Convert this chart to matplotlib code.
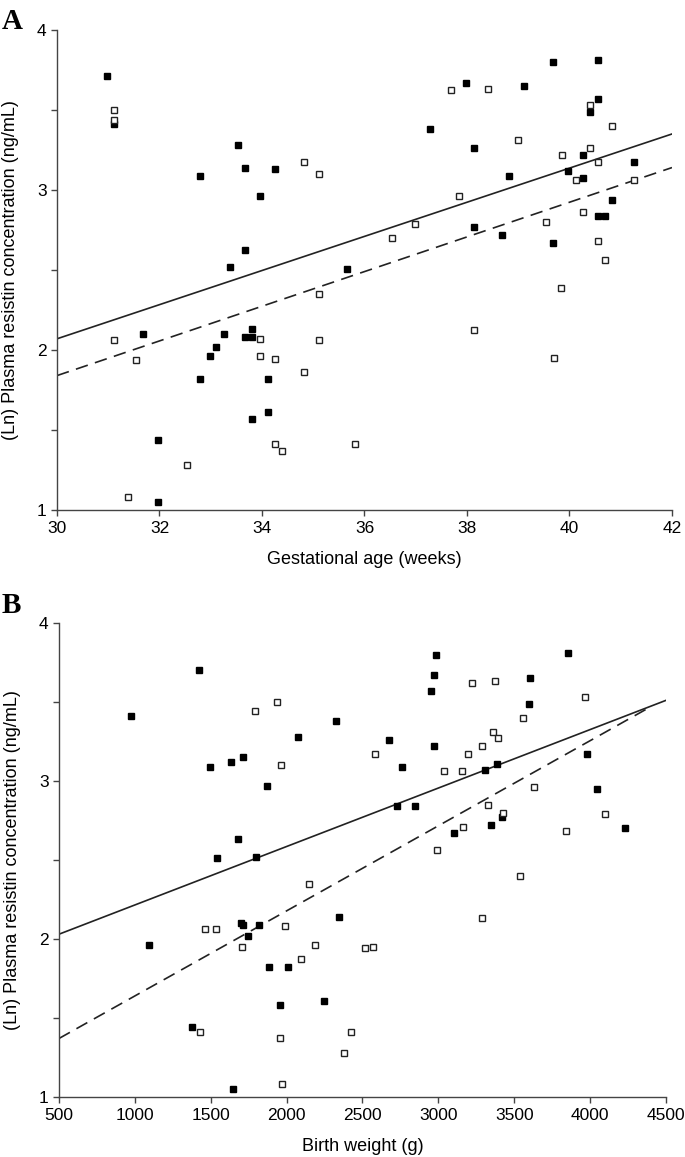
import numpy as np
import matplotlib
matplotlib.use('Agg')
import matplotlib.pyplot as plt

plt.rcParams['font.family'] = ['Liberation Sans', 'DejaVu Sans']

# panel A: gestational age (weeks) vs ln resistin
ga_filled = [30.98, 31.11, 32.80, 33.53, 33.38, 33.67, 34.25, 33.96, 33.67, 35.66,
             37.28, 37.98, 39.11, 39.68, 40.56, 40.56, 40.40, 38.14, 40.26, 41.26,
             39.97, 40.26, 38.82, 40.83, 40.56, 40.69, 38.14, 38.68, 39.68, 31.68,
             33.25, 33.10, 32.98, 32.80, 31.97, 31.97, 33.81, 33.67, 33.81, 34.12,
             34.12, 33.81]
res_a_filled = [3.71, 3.41, 3.09, 3.28, 2.52, 3.14, 3.13, 2.96, 2.625, 2.506,
                3.38, 3.67, 3.65, 3.80, 3.81, 3.57, 3.49, 3.26, 3.22, 3.175,
                3.12, 3.075, 3.09, 2.94, 2.84, 2.84, 2.77, 2.72, 2.67, 2.10,
                2.10, 2.02, 1.96, 1.82, 1.44, 1.05, 2.13, 2.08, 2.08, 1.82,
                1.61, 1.57]
ga_open = [31.11, 31.11, 34.82, 35.11, 36.54, 36.99, 37.84, 37.69, 38.41, 40.40,
           40.83, 38.99, 39.85, 40.40, 40.56, 40.13, 41.26, 40.26, 39.54, 40.56,
           40.69, 39.83, 38.14, 39.70, 31.11, 31.54, 32.54, 31.39, 35.11, 33.96,
           35.11, 33.96, 34.26, 34.82, 34.26, 34.39, 35.81]
res_a_open = [3.50, 3.44, 3.175, 3.10, 2.70, 2.79, 2.96, 3.625, 3.63, 3.53,
              3.40, 3.31, 3.22, 3.26, 3.175, 3.06, 3.06, 2.86, 2.80, 2.68,
              2.56, 2.39, 2.125, 1.95, 2.06, 1.94, 1.28, 1.08, 2.35, 2.07,
              2.06, 1.96, 1.945, 1.86, 1.41, 1.37, 1.41]
fit_a_x = [30, 42]
fit_a_solid = [2.07, 3.35]
fit_a_dashed = [1.84, 3.14]

# panel B: birth weight (g) vs ln resistin
bw_filled = [1422, 974, 1495, 1633, 1679, 1541, 1712, 2074, 2325, 1870,
             1798, 2674, 2760, 2983, 2970, 2951, 2970, 2727, 2845, 3102,
             3603, 3853, 3596, 3385, 3306, 3978, 4044, 3418, 3346, 4229,
             1093, 1376, 1646, 1700, 1715, 1817, 1745, 2345, 1883, 2009,
             1956, 2246]
res_b_filled = [3.70, 3.41, 3.09, 3.12, 2.63, 2.51, 3.15, 3.28, 3.38, 2.97,
                2.52, 3.26, 3.09, 3.80, 3.67, 3.57, 3.22, 2.84, 2.84, 2.67,
                3.65, 3.81, 3.49, 3.11, 3.07, 3.17, 2.95, 2.77, 2.72, 2.70,
                1.96, 1.44, 1.05, 2.10, 2.09, 2.09, 2.02, 2.14, 1.82, 1.82,
                1.58, 1.61]
bw_open = [1791, 1936, 1962, 2582, 3036, 3155, 3161, 2990, 3221, 3372,
           3965, 3557, 3359, 3392, 3287, 3194, 3629, 3326, 3425, 4097,
           3840, 3537, 1462, 1534, 1429, 2147, 1705, 1989, 2186, 2516,
           2569, 2094, 2424, 1956, 2377, 1969, 3287]
res_b_open = [3.44, 3.50, 3.10, 3.17, 3.06, 3.06, 2.71, 2.56, 3.62, 3.63,
              3.53, 3.40, 3.31, 3.27, 3.22, 3.17, 2.96, 2.85, 2.80, 2.79,
              2.68, 2.40, 2.06, 2.06, 1.41, 2.35, 1.95, 2.08, 1.96, 1.94,
              1.95, 1.87, 1.41, 1.37, 1.28, 1.08, 2.13]
fit_b_solid_x = [500, 4500]
fit_b_solid = [2.03, 3.51]
fit_b_dashed_x = [500, 4400]
fit_b_dashed = [1.37, 3.47]

ylabel = '(Ln) Plasma resistin concentration (ng/mL)'
axis_grey = '#444444'

fig = plt.figure(figsize=(6.85, 11.57), dpi=100)
axA = fig.add_axes([0.0832, 0.5592, 0.8978, 0.4149])
axB = fig.add_axes([0.0861, 0.0519, 0.8861, 0.4097])


def style_axes(ax):
    for s in ['top', 'right']:
        ax.spines[s].set_visible(False)
    for s in ['left', 'bottom']:
        ax.spines[s].set_color(axis_grey)
        ax.spines[s].set_linewidth(1.0)
    ax.set_ylim(1, 4)
    ax.set_yticks([1, 2, 3, 4])
    ax.set_yticks([1.5, 2.5, 3.5], minor=True)
    ax.tick_params(axis='both', which='both', direction='out', color=axis_grey,
                   labelsize=12.5, length=4, width=1)
    ax.tick_params(axis='x', pad=4)
    ax.set_ylabel(ylabel, fontsize=13)
    # right edge of the rotated label sits ~19 px from the figure edge
    ax.yaxis.set_label_coords(-0.062, 0.5)


def scatter_groups(ax, xf, yf, xo, yo):
    ax.plot(xf, yf, 's', ms=5, color='black', mec='black', clip_on=False, zorder=3)
    ax.plot(xo, yo, 's', ms=5, mfc='white', mec='#222222', mew=1.0,
            clip_on=False, zorder=3)


# panel A
scatter_groups(axA, ga_filled, res_a_filled, ga_open, res_a_open)
axA.plot(fit_a_x, fit_a_solid, '-', color='#222222', lw=1.2)
axA.plot(fit_a_x, fit_a_dashed, '--', color='#222222', lw=1.2, dashes=(7.5, 4.5))
axA.set_xlim(30, 42)
axA.set_xticks(np.arange(30, 43, 2))
style_axes(axA)
axA.set_xlabel('Gestational age (weeks)', fontsize=13, labelpad=11)

# panel B
scatter_groups(axB, bw_filled, res_b_filled, bw_open, res_b_open)
axB.plot(fit_b_solid_x, fit_b_solid, '-', color='#222222', lw=1.2)
axB.plot(fit_b_dashed_x, fit_b_dashed, '--', color='#222222', lw=1.2, dashes=(7.5, 4.5))
axB.set_xlim(500, 4500)
axB.set_xticks(np.arange(500, 4501, 500))
style_axes(axB)
axB.set_xlabel('Birth weight (g)', fontsize=13, labelpad=11)

fig.text(0.003, 0.975, 'A', fontsize=21, fontweight='bold', family='Liberation Serif')
fig.text(0.003, 0.470, 'B', fontsize=21, fontweight='bold', family='Liberation Serif')

fig.savefig('out.png', dpi=100)
